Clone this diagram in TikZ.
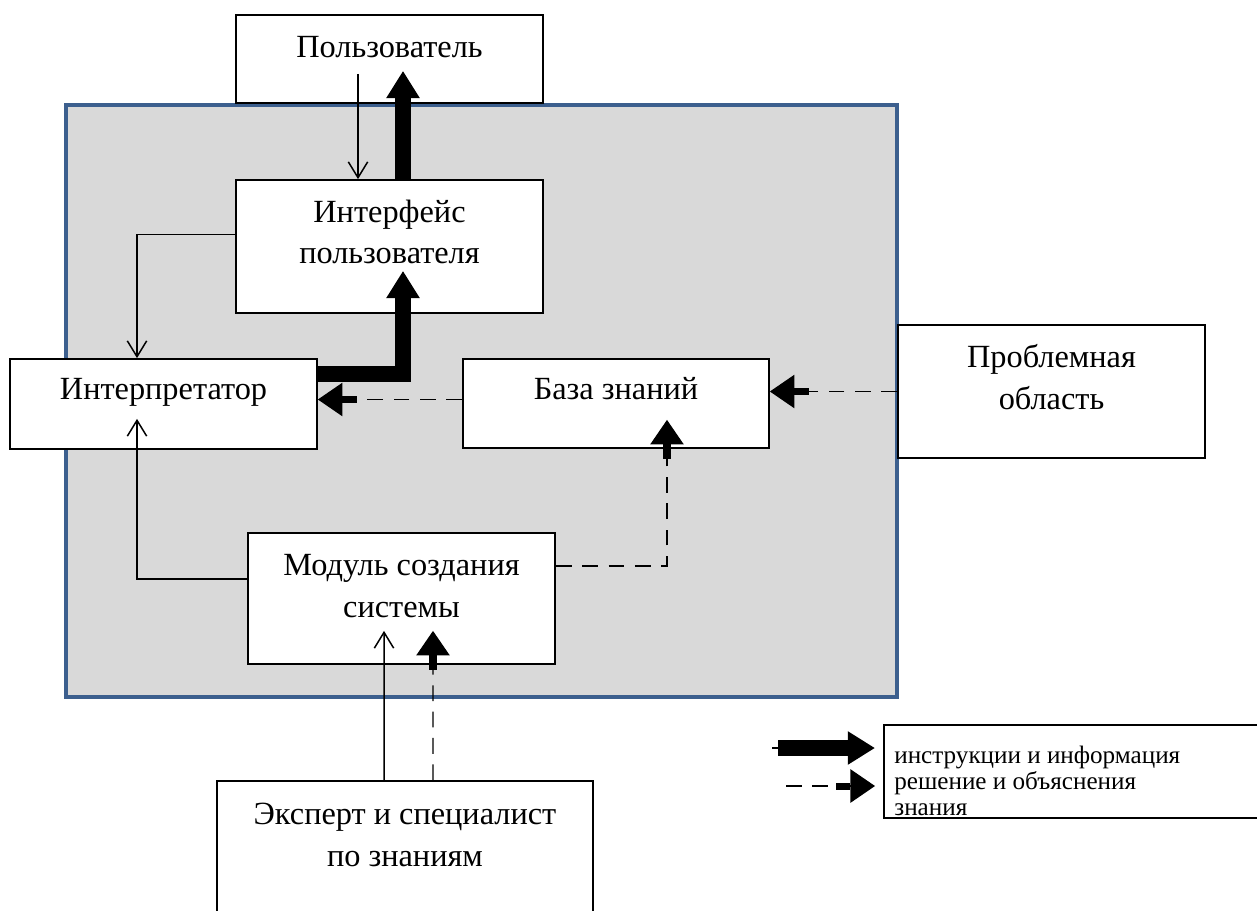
\documentclass[tikz,border=0pt]{standalone}
\usepackage{fontspec}
\setmainfont{Liberation Serif}
\usetikzlibrary{calc}
\usetikzlibrary{arrows.meta}
\definecolor{panel}{HTML}{D9D9D9}
\definecolor{frame}{HTML}{3C5F8E}

\begin{document}
\begin{tikzpicture}[x=0.02cm,y=-0.02cm,
  box/.style 2 args={draw, fill=white, line width=1pt, minimum width=#1*0.02cm, minimum height=#2*0.02cm, inner sep=0},
  lbl/.style={font=\fontsize{18.4}{23.5}\selectfont, align=center, inner sep=0},
  legtxt/.style={font=\fontsize{14.3}{15}\selectfont, align=left, inner sep=0},
  flow/.style={line width=0.85pt, -{Straight Barb[length=9pt,width=11pt]}},
  infoflow/.style={line width=9pt, -{Triangle[length=15.5pt,width=18pt]}},
  knowflow/.style={line width=0.85pt, dash pattern=on 9pt off 6pt, -{Rectangle[length=8pt,width=4pt] Triangle[length=14pt,width=19pt]}}]
\useasboundingbox (0,0) rectangle (1257,910);
\draw[frame, line width=2.3pt, fill=panel] (66,105) rectangle (897,697);

\node[box={307}{88}] (user) at (389.5,59) {};
\node[box={307}{133}] (iface) at (389.5,246.5) {};
\node[box={307}{90}] (interp) at (163.5,404) {};
\node[box={306}{89}] (base) at (616,403.5) {};
\node[box={307}{133}] (prob) at (1051.5,391.5) {};
\node[box={307}{131}] (modul) at (401.5,598.5) {};
\node[box={376}{158}] (expert) at (405,860) {};
\node[box={386}{93}] (legend) at (1077,771.5) {};

\node[lbl] (userT) at (389.5,47) {Пользователь};
\node[lbl] (ifaceT) at (389.5,232) {Интерфейс\\пользователя};
\node[lbl] (interpT) at (163.5,392) {Интерпретатор};
\node[lbl] (baseT) at (616,389) {База знаний};
\node[lbl] (probT) at (1051.5,377) {Проблемная\\область};
\node[lbl] (modulT) at (401.5,586) {Модуль создания\\системы};
\node[lbl] (expertT) at (405,835) {Эксперт и специалист\\по знаниям};
\node[legtxt, anchor=west] (legT) at (894,781) {инструкции и информация\\решение и объяснения\\знания};

\draw[flow] ([xshift=-0.63cm,yshift=0.6cm]user.south) -- ([xshift=-0.63cm]iface.north);
\draw[infoflow] ([xshift=0.27cm]iface.north) -- ([xshift=0.27cm,yshift=0.66cm]user.south);
\draw[flow] ([yshift=0.24cm]iface.west) -| ([xshift=-0.53cm]interp.north);
\draw[infoflow] ([yshift=0.6cm]interp.east) -| ([xshift=0.27cm,yshift=0.86cm]iface.south);
\coordinate (kb) at ([yshift=0.08cm]base.west);
\draw[knowflow] (kb) -- (kb -| interp.east);
\draw[knowflow] (prob.west) -- (prob.west -| base.east);
\draw[knowflow] ([yshift=0.65cm]modul.east) -| ([xshift=1.02cm,yshift=0.58cm]base.south);
\draw[flow] ([yshift=0.39cm]modul.west) -| ([xshift=-0.53cm,yshift=0.62cm]interp.south);
\draw[flow] ([xshift=-0.42cm]expert.north) -- ([xshift=-0.35cm,yshift=0.68cm]modul.south);
\draw[knowflow] ([xshift=0.56cm]expert.north) -- ([xshift=0.63cm,yshift=0.68cm]modul.south);

\coordinate (l1) at (778,748);
\coordinate (l2) at (786,786);
\draw[line width=0.85pt] ($(l1)+(-6,0)$) -- (l1);
\draw[infoflow] (l1) -- ($(l1)+(97,0)$);
\draw[knowflow] (l2) -- ($(l2)+(89,0)$);
\end{tikzpicture}
\end{document}
